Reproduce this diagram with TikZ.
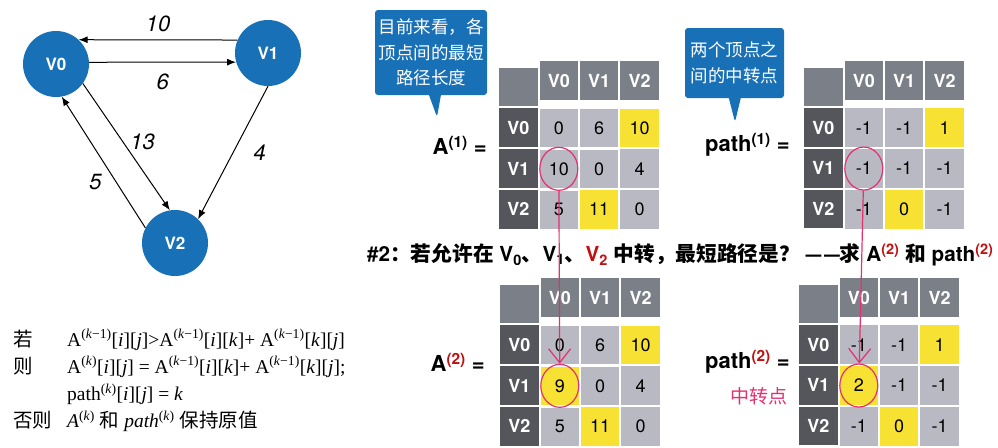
\documentclass[tikz,border=0pt]{standalone}
\usepackage{fontspec}
\setmainfont{Liberation Serif}
\setsansfont{TeX Gyre Heros}
\newfontfamily\cjk{Noto Sans CJK SC}
\usetikzlibrary{positioning,matrix,shapes.geometric,shapes.callouts,arrows.meta}
\definecolor{vblue}{RGB}{24,112,182}
\definecolor{hdgray}{RGB}{123,127,136}
\definecolor{rowgray}{RGB}{84,86,92}
\definecolor{cellgray}{RGB}{184,185,195}
\definecolor{cellyellow}{RGB}{247,226,52}
\definecolor{inkpink}{RGB}{228,48,112}
\definecolor{hlred}{RGB}{192,16,16}
\newcommand{\sps}[1]{\textsuperscript{#1}}
\newcommand{\ldash}{\scalebox{1.35}[1]{–}}

\begin{document}
\begin{tikzpicture}[x=1pt, y=-1pt,
    vertex/.style={circle, fill=vblue, minimum size=66pt, inner sep=0pt, text=white,
        font=\sffamily\bfseries\fontsize{17}{20}\selectfont},
    edge/.style={-{Latex[length=9pt,width=7pt]}, line width=1pt},
    wt/.style={inner sep=0pt, font=\sffamily\itshape\fontsize{22}{26}\selectfont},
    tbl/.style={matrix of nodes, nodes in empty cells, anchor=north west,
        inner sep=0pt, column sep=0pt, row sep=0pt,
        nodes={draw=white, line width=1pt, fill=cellgray, inner sep=0pt,
            minimum width=39.4pt, minimum height=39.6pt,
            font=\sffamily\fontsize{18}{21}\selectfont},
        row 1/.style={nodes={fill=hdgray, text=white, font=\sffamily\bfseries\fontsize{18}{21}\selectfont}}},
    rh/.style={fill=rowgray, text=white, font=\sffamily\bfseries\fontsize{18}{21}\selectfont},
    hl/.style={fill=cellyellow},
    lab/.style={inner sep=0pt, font=\sffamily\bfseries\fontsize{22}{26}\selectfont},
    tip/.style={rectangle callout, fill=vblue, rounded corners=3pt, text=white, align=center,
        inner sep=0pt, callout pointer width=12pt, font=\cjk\fontsize{17.5}{25.5}\selectfont},
    ring/.style={ellipse, draw=inkpink, line width=1.2pt, minimum width=38pt, minimum height=43pt, inner sep=0pt},
    pen/.style={draw=inkpink, line width=1.2pt, -{Straight Barb[length=14pt,width=22pt]}}]
    \useasboundingbox (0,0) rectangle (998,447);

    % graph
    \node[vertex] (V0) at (56,64) {V0};
    \node[vertex] (V1) at (268,53) {V1};
    \node[vertex] (V2) at (175,243) {V2};
    \draw[edge] (V1.157) -- node[wt, above=8pt] {10} (V0.47);
    \draw[edge] (V0.3) -- node[wt, below=11pt] {6} (V1.196);
    \draw[edge] (V0.-36) -- node[wt, pos=0.46, right=7pt] {13} (V2.99);
    \draw[edge] (V1.-90) -- node[wt, pos=0.5, right=20pt] {4} (V2.46);
    \draw[edge] (V2.153) -- node[wt, pos=0.35, left=14pt] {5} (V0.-80);

    % rule
    \node[anchor=base west, inner sep=0pt, font=\fontsize{19.5}{27.3}\selectfont] (rule) at (13,346) {%
        \begin{tabular}[t]{@{}l@{\hspace{15pt}}l@{}}
            {\cjk 若} & A\sps{(\textit{k}−1)}[\textit{i}][\textit{j}]>A\sps{(\textit{k}−1)}[\textit{i}][\textit{k}]+ A\sps{(\textit{k}−1)}[\textit{k}][\textit{j}] \\
            {\cjk 则} & A\sps{(\textit{k})}[\textit{i}][\textit{j}] = A\sps{(\textit{k}−1)}[\textit{i}][\textit{k}]+ A\sps{(\textit{k}−1)}[\textit{k}][\textit{j}]; \\
                      & path\sps{(\textit{k})}[\textit{i}][\textit{j}] = \textit{k} \\
            {\cjk 否则} & \textit{A}\sps{(\textit{k})} {\cjk 和} \textit{path}\sps{(\textit{k})} {\cjk 保持原值}
        \end{tabular}};

    % A(1)
    \matrix (A1) [tbl] at (498,60) {
          & V0 & V1 & V2 \\
        |[rh]| V0 & 0 & 6 & |[hl]| 10 \\
        |[rh]| V1 & 10 & 0 & 4 \\
        |[rh]| V2 & 5 & |[hl]| 11 & 0 \\
    };
    \node[lab, left=11pt of A1] (LA1) {A\sps{(1)} =};

    % path(1)
    \matrix (P1) [tbl] at (803,60) {
          & V0 & V1 & V2 \\
        |[rh]| V0 & -1 & -1 & |[hl]| 1 \\
        |[rh]| V1 & -1 & -1 & -1 \\
        |[rh]| V2 & -1 & |[hl]| 0 & -1 \\
    };
    \node[lab, left=13pt of P1] (LP1) {path\sps{(1)} =};

    % A(2)
    \matrix (A2) [tbl] at (499,277) {
          & V0 & V1 & V2 \\
        |[rh]| V0 & 0 & 6 & |[hl]| 10 \\
        |[rh]| V1 & |[hl]| 9 & 0 & 4 \\
        |[rh]| V2 & 5 & |[hl]| 11 & 0 \\
    };
    \node[lab, left=14pt of A2] (LA2) {A\sps{\textcolor{hlred}{(2)}} =};

    % path(2)
    \matrix (P2) [tbl] at (798,277) {
          & V0 & V1 & V2 \\
        |[rh]| V0 & -1 & -1 & |[hl]| 1 \\
        |[rh]| V1 & |[hl]| 2 & -1 & -1 \\
        |[rh]| V2 & -1 & |[hl]| 0 & -1 \\
    };
    \node[lab, left=8pt of P2] (LP2) {path\sps{\textcolor{hlred}{(2)}} =};

    % step 2 line
    \node[anchor=west, inner sep=0pt, font=\sffamily\bfseries\fontsize{20.7}{24}\selectfont] (hint) at (367,255)
        {\#2{\cjk ：若允许在} V\textsubscript{0}{\cjk 、}V\textsubscript{1}{\cjk 、}\textcolor{hlred}{V\textsubscript{2}} {\cjk 中转，最短路径是？} \ldash\kern3pt\ldash{\cjk 求} A\sps{\textcolor{hlred}{(2)}} {\cjk 和} path\sps{\textcolor{hlred}{(2)}}};

    % callouts
    \node[tip, minimum width=112pt, minimum height=85pt, callout absolute pointer={(437,117)}] (tip1) at (431,52.5)
        {目前来看，各\\顶点间的最短\\路径长度};
    \node[tip, minimum width=99pt, minimum height=70pt, callout absolute pointer={(735,122)}] (tip2) at (734.5,63)
        {两个顶点之\\间的中转点};

    % pink marks
    \node[ring] (c1) at (A1-3-2) {};
    \node[ring] (c2) at (P1-3-2) {};
    \node[ring] (c3) at (A2-3-2) {};
    \node[ring] (c4) at (P2-3-2) {};
    \draw[pen] (c1) -- (c3);
    \draw[pen] (c2) -- (c4);
    \node[inner sep=0pt, text=inkpink, font=\cjk\fontsize{19}{22}\selectfont] (note) at (759,396) {中转点};
\end{tikzpicture}
\end{document}
